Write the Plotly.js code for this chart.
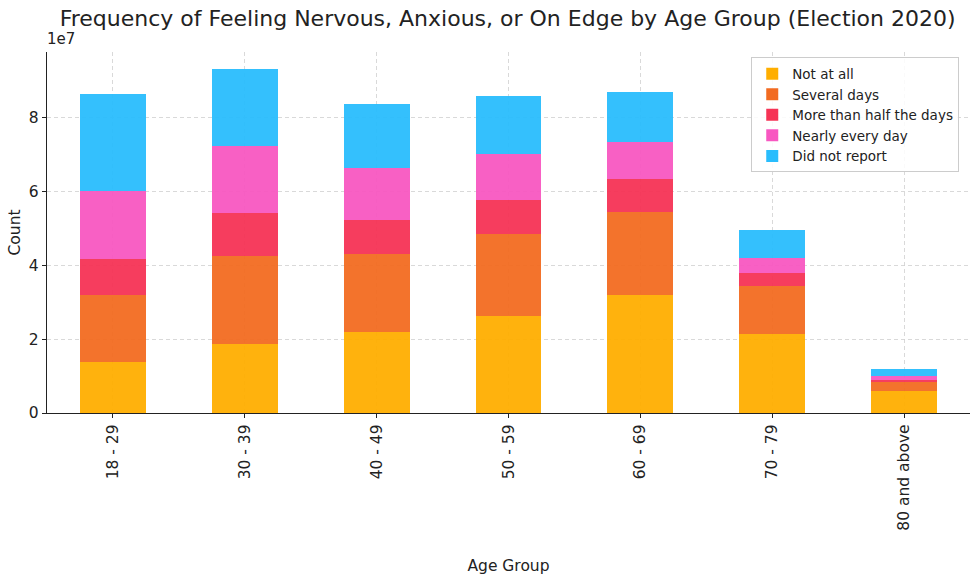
<!DOCTYPE html>
<html>
<head>
<meta charset="utf-8">
<script src="https://cdn.plot.ly/plotly-3.0.1.min.js"></script>
<style>html,body{margin:0;padding:0;background:#fff;}#chart{width:980px;height:584px;}</style>
</head>
<body>
<div id="chart"></div>
<script>
const ageGroups = ["18 - 29", "30 - 39", "40 - 49", "50 - 59", "60 - 69", "70 - 79", "80 and above"];
const notAtAll      = [13.7e6, 18.6e6, 22.0e6, 26.2e6, 31.9e6, 21.5e6, 6.0e6];
const severalDays   = [18.2e6, 23.9e6, 21.0e6, 22.3e6, 22.5e6, 12.8e6, 2.4e6];
const moreThanHalf  = [9.9e6, 11.6e6, 9.4e6, 9.1e6, 8.9e6, 3.6e6, 0.5e6];
const nearlyEvery   = [18.4e6, 18.3e6, 14.1e6, 12.7e6, 10.1e6, 4.0e6, 1.2e6];
const didNotReport  = [26.2e6, 20.7e6, 17.2e6, 15.7e6, 13.5e6, 7.6e6, 1.9e6];
const seriesNames = ["Not at all", "Several days", "More than half the days", "Nearly every day", "Did not report"];
const seriesValues = [notAtAll, severalDays, moreThanHalf, nearlyEvery, didNotReport];
const seriesColors = ["#FFAE00", "#F26B21", "#F63355", "#F857C1", "#29BDFD"];
const yTickVals = [0, 2e7, 4e7, 6e7, 8e7];
const yTickText = ["0", "2", "4", "6", "8"];

const traces = seriesNames.map((n, i) => ({
  type: "bar",
  name: n,
  x: ageGroups,
  y: seriesValues[i],
  width: 0.5,
  marker: {color: seriesColors[i], opacity: 0.95, line: {width: 0}},
  hoverinfo: "x+y+name"
}));

const font = "DejaVu Sans, sans-serif";
const layout = {
  width: 980, height: 584,
  barmode: "stack",
  margin: {l: 47, r: 10, t: 52, b: 171},
  paper_bgcolor: "#fff", plot_bgcolor: "#fff",
  font: {family: font, color: "#222", size: 14},
  title: {text: "Frequency of Feeling Nervous, Anxious, or On Edge by Age Group (Election 2020)",
          font: {family: font, size: 22, color: "#222"}, x: 0.518, xanchor: "center", y: 0.968, yanchor: "middle"},
  xaxis: {
    type: "category", range: [-0.5, 6.5],
    tickangle: -90, tickfont: {family: font, size: 15.5, color: "#222"},
    ticks: "outside", ticklen: 4, tickcolor: "#222",
    showgrid: true, gridcolor: "#d0d0d0", griddash: "4px,3px", gridwidth: 0.8,
    showline: true, linecolor: "#222", linewidth: 1.2,
    title: {text: "Age Group", font: {family: font, size: 15.5, color: "#222"}, standoff: 30},
    automargin: false
  },
  yaxis: {
    range: [0, 9.78e7],
    tickmode: "array", tickvals: yTickVals, ticktext: yTickText,
    tickfont: {family: font, size: 15.5, color: "#222"},
    ticks: "outside", ticklen: 4, tickcolor: "#222",
    showgrid: true, gridcolor: "#d0d0d0", griddash: "4px,3px", gridwidth: 0.8,
    zeroline: false,
    showline: true, linecolor: "#222", linewidth: 1.2,
    title: {text: "Count", font: {family: font, size: 15.5, color: "#222"}, standoff: 4},
    automargin: false
  },
  legend: {
    x: 0.763, xanchor: "left", y: 0.985, yanchor: "top",
    bgcolor: "rgba(255,255,255,0.85)", bordercolor: "#cccccc", borderwidth: 1,
    font: {family: font, size: 13.5, color: "#222"},
    traceorder: "normal", tracegroupgap: 0, itemwidth: 30
  },
  annotations: [{
    text: "1e7", xref: "paper", yref: "paper", x: 0, y: 1, xanchor: "left", yanchor: "bottom",
    xshift: -2, yshift: 2, showarrow: false, font: {family: font, size: 15, color: "#222"}
  }],
  showlegend: true
};

Plotly.newPlot("chart", traces, layout, {displayModeBar: false, staticPlot: true});
</script>
</body>
</html>
